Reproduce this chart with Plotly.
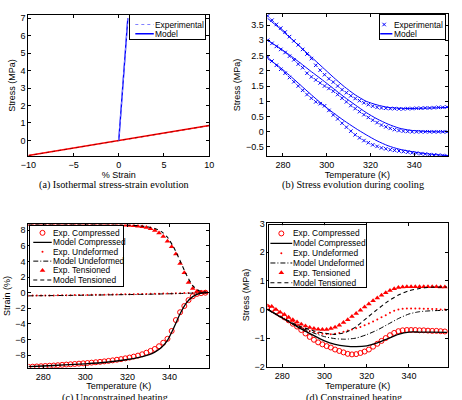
import plotly.graph_objects as go

# ---------------- DATA ----------------
# (a) isothermal stress-strain
STRAIN_LOW = [0, 1]
STRESS_LOW_EXP = [0, 7.0]
STRESS_LOW_MOD = [0, 7.0]
STRAIN_HIGH = [-10, 10]
STRESS_HIGH_EXP = [-0.87, 0.85]
STRESS_HIGH_MOD = [-0.87, 0.85]

# (b) stress evolution during cooling
T_B_EXP = [273, 275, 277, 279, 281, 283, 285, 287, 289, 291, 293, 295, 297, 299, 301, 303, 305, 307, 309, 311, 313,
           315, 317, 319, 321, 323, 325, 327, 329, 331, 333, 335, 337, 339, 341, 343, 345, 347, 349, 351, 353, 355]
B_TOP_EXP = [3.80, 3.66, 3.52, 3.40, 3.27, 3.12, 2.98, 2.85, 2.70, 2.55, 2.40, 2.18, 2.02, 1.87, 1.74, 1.63, 1.50, 1.38,
             1.28, 1.18, 1.09, 1.02, 0.95, 0.89, 0.84, 0.80, 0.78, 0.77, 0.76, 0.76, 0.75, 0.75, 0.76, 0.76, 0.77, 0.77,
             0.78, 0.78, 0.79, 0.80, 0.80, 0.81]
B_MID_EXP = [3.00, 2.90, 2.80, 2.70, 2.60, 2.48, 2.36, 2.22, 2.10, 1.92, 1.80, 1.70, 1.60, 1.50, 1.42, 1.33, 1.22, 1.10,
             0.98, 0.86, 0.76, 0.66, 0.56, 0.47, 0.38, 0.30, 0.22, 0.16, 0.11, 0.07, 0.04, 0.02, 0.01, 0.00, 0.00, 0.00,
             0.00, 0.00, 0.00, 0.00, 0.00, 0.00]
B_BOT_EXP = [2.45, 2.32, 2.18, 2.05, 1.92, 1.78, 1.64, 1.50, 1.36, 1.22, 1.10, 0.98, 0.92, 0.85, 0.70, 0.55, 0.42, 0.28,
             0.15, 0.02, -0.10, -0.20, -0.29, -0.36, -0.43, -0.48, -0.53, -0.56, -0.59, -0.61, -0.63, -0.65, -0.67,
             -0.69, -0.70, -0.72, -0.73, -0.75, -0.76, -0.77, -0.78, -0.79]
T_B_MOD = [273, 278, 283, 288, 293, 298, 303, 308, 313, 318, 323, 328, 333, 338, 343, 348, 356]
B_TOP_MOD = [3.72, 3.42, 3.10, 2.78, 2.45, 2.12, 1.79, 1.48, 1.21, 1.00, 0.88, 0.80, 0.77, 0.76, 0.77, 0.78, 0.80]
B_MID_MOD = [3.00, 2.77, 2.52, 2.25, 1.97, 1.70, 1.42, 1.14, 0.88, 0.63, 0.42, 0.25, 0.12, 0.05, 0.02, 0.00, 0.00]
B_BOT_MOD = [2.40, 2.15, 1.85, 1.53, 1.21, 0.90, 0.62, 0.36, 0.12, -0.10, -0.30, -0.46, -0.57, -0.64, -0.70, -0.74, -0.79]

# (c) unconstrained heating (strain %)  and (d) constrained heating (stress MPa)
T_EXP = [273, 275, 277, 279, 281, 283, 285, 287, 289, 291, 293, 295, 297, 299, 301, 303, 305, 307, 309, 311, 313, 315,
         317, 319, 321, 323, 325, 327, 329, 331, 333, 335, 337, 339, 341, 343, 345, 347, 349, 351, 353, 355, 357]
C_COMP_EXP = [-9.50, -9.47, -9.44, -9.41, -9.38, -9.35, -9.32, -9.28, -9.24, -9.20, -9.16, -9.12, -9.08, -9.04, -9.00,
              -8.95, -8.90, -8.85, -8.79, -8.73, -8.66, -8.58, -8.50, -8.40, -8.30, -8.18, -8.05, -7.88, -7.68, -7.45,
              -7.20, -6.85, -6.40, -5.90, -4.90, -3.50, -2.50, -1.70, -0.95, -0.45, -0.15, -0.05, 0.00]
C_UND_EXP = [-0.38, -0.37, -0.37, -0.36, -0.35, -0.35, -0.34, -0.33, -0.33, -0.32, -0.31, -0.30, -0.30, -0.29, -0.28,
             -0.27, -0.27, -0.26, -0.25, -0.24, -0.23, -0.22, -0.21, -0.20, -0.19, -0.18, -0.17, -0.16, -0.15, -0.14,
             -0.13, -0.12, -0.11, -0.10, -0.09, -0.08, -0.06, -0.05, -0.04, -0.03, -0.02, -0.01, 0.00]
C_TEN_EXP = [8.70, 8.70, 8.70, 8.70, 8.70, 8.70, 8.70, 8.70, 8.70, 8.70, 8.70, 8.70, 8.70, 8.70, 8.70, 8.70, 8.70, 8.70,
             8.70, 8.69, 8.68, 8.67, 8.66, 8.64, 8.62, 8.58, 8.52, 8.45, 8.35, 8.20, 7.98, 7.65, 7.20, 6.60, 5.90, 4.95,
             3.75, 2.55, 1.30, 0.55, 0.20, 0.06, 0.02]
T_C_MOD = [273, 280, 290, 300, 310, 320, 325, 330, 333, 336, 339, 342, 345, 348, 351, 354, 358]
C_COMP_MOD = [-9.45, -9.38, -9.25, -9.10, -8.90, -8.55, -8.30, -7.95, -7.60, -7.05, -6.10, -4.50, -2.70, -1.30, -0.50,
              -0.12, 0.00]
C_UND_MOD = [-0.40, -0.38, -0.35, -0.32, -0.28, -0.24, -0.22, -0.20, -0.18, -0.16, -0.14, -0.12, -0.10, -0.08, -0.05,
             -0.02, 0.00]
C_TEN_MOD = [8.72, 8.72, 8.72, 8.72, 8.71, 8.66, 8.58, 8.42, 8.22, 7.85, 7.10, 5.80, 4.10, 2.30, 0.90, 0.25, 0.02]

D_COMP_EXP = [0.08, 0.02, -0.08, -0.18, -0.28, -0.38, -0.50, -0.60, -0.72, -0.84, -0.96, -1.06, -1.15, -1.22, -1.28,
              -1.33, -1.40, -1.45, -1.50, -1.55, -1.57, -1.56, -1.52, -1.47, -1.40, -1.30, -1.20, -1.10, -1.00, -0.90,
              -0.82, -0.76, -0.73, -0.72, -0.72, -0.72, -0.73, -0.73, -0.74, -0.75, -0.75, -0.76, -0.77]
D_UND_EXP = [0.00, -0.08, -0.17, -0.25, -0.33, -0.42, -0.50, -0.57, -0.64, -0.70, -0.75, -0.79, -0.82, -0.85, -0.86,
             -0.87, -0.85, -0.82, -0.78, -0.74, -0.70, -0.66, -0.61, -0.55, -0.49, -0.42, -0.35, -0.27, -0.20, -0.12,
             -0.05, 0.00, 0.02, 0.03, 0.03, 0.03, 0.03, 0.02, 0.02, 0.01, 0.01, 0.00, 0.00]
D_TEN_EXP = [0.12, 0.10, 0.00, -0.10, -0.18, -0.27, -0.36, -0.44, -0.52, -0.58, -0.63, -0.67, -0.69, -0.70, -0.70,
             -0.67, -0.62, -0.55, -0.46, -0.36, -0.25, -0.14, -0.03, 0.08, 0.19, 0.30, 0.40, 0.49, 0.58, 0.66, 0.72,
             0.76, 0.78, 0.79, 0.79, 0.79, 0.79, 0.79, 0.79, 0.79, 0.79, 0.78, 0.78]
T_D_MOD = [273, 280, 287, 294, 300, 305, 310, 315, 320, 325, 330, 335, 340, 345, 350, 358]
D_COMP_MOD = [0.00, -0.30, -0.60, -0.88, -1.10, -1.22, -1.28, -1.30, -1.27, -1.17, -1.02, -0.87, -0.79, -0.79, -0.79,
              -0.80]
D_UND_MOD = [0.00, -0.30, -0.58, -0.80, -0.95, -1.02, -1.04, -1.00, -0.88, -0.72, -0.52, -0.32, -0.16, -0.08, -0.05,
             -0.03]
D_TEN_MOD = [0.00, -0.28, -0.55, -0.73, -0.83, -0.87, -0.80, -0.60, -0.30, 0.00, 0.28, 0.50, 0.65, 0.73, 0.77, 0.78]

CAPTIONS = ["(a) Isothermal stress-strain evolution", "(b) Stress evolution during cooling",
            "(c) Unconstrained heating", "(d) Constrained heating"]

# ---------------- STYLE / LAYOUT ----------------
W, H = 462, 400
SANS = "Liberation Sans"
SERIF = "Liberation Serif"


def fx(p):
    return p / W


def fy(p):
    return 1 - p / H


BLUE = "#0000ff"
RED = "#ff0000"
BLACK = "#000000"
DASH = "4px,3px"
DASHDOT = "5px,2px,1px,2px"

fig = go.Figure()


def add(x, y, ax, **kw):
    n = "" if ax == 1 else str(ax)
    fig.add_trace(go.Scatter(x=x, y=y, xaxis="x" + n, yaxis="y" + n, showlegend=False, hoverinfo="skip", **kw))


# (a)
add(STRAIN_HIGH, STRESS_HIGH_MOD, 1, mode="lines", line=dict(color=RED, width=1.5))
add(STRAIN_HIGH, STRESS_HIGH_EXP, 1, mode="lines", line=dict(color="#a00000", width=1, dash="dot"))
add(STRAIN_LOW, STRESS_LOW_MOD, 1, mode="lines", line=dict(color=BLUE, width=1.4))
add(STRAIN_LOW, STRESS_LOW_EXP, 1, mode="lines", line=dict(color="#8080ff", width=1, dash="dot"))

# (b)
xmark = dict(symbol="x-thin-open", size=3.5, color=BLUE, line=dict(color=BLUE, width=1))
for ye, ym in [(B_TOP_EXP, B_TOP_MOD), (B_MID_EXP, B_MID_MOD), (B_BOT_EXP, B_BOT_MOD)]:
    add(T_B_EXP, ye, 2, mode="markers", marker=xmark)
    add(T_B_MOD, ym, 2, mode="lines", line=dict(color=BLUE, width=1, shape="spline", smoothing=0.6))

# (c) and (d)
circ = dict(symbol="circle-open", size=5, color=RED, line=dict(color=RED, width=1))
tri = dict(symbol="triangle-up", size=5, color=RED, line=dict(width=0))
dot = dict(symbol="circle", size=2, color=RED, line=dict(width=0))
for ax, (ce, ue, te, cm, um, tm, tmod) in {
    3: (C_COMP_EXP, C_UND_EXP, C_TEN_EXP, C_COMP_MOD, C_UND_MOD, C_TEN_MOD, T_C_MOD),
    4: (D_COMP_EXP, D_UND_EXP, D_TEN_EXP, D_COMP_MOD, D_UND_MOD, D_TEN_MOD, T_D_MOD),
}.items():
    add(T_EXP, ue, ax, mode="markers", marker=dot)
    add(T_EXP, ce, ax, mode="markers", marker=circ)
    add(T_EXP, te, ax, mode="markers", marker=tri)
    add(tmod, cm, ax, mode="lines", line=dict(color=BLACK, width=1.3, shape="spline", smoothing=0.6))
    add(tmod, um, ax, mode="lines", line=dict(color=BLACK, width=1, dash=DASHDOT, shape="spline", smoothing=0.6))
    add(tmod, tm, ax, mode="lines", line=dict(color=BLACK, width=1.1, dash=DASH, shape="spline", smoothing=0.6))


def main_axis(dom, rng, tickvals=None, dtick=None, title="", standoff=0):
    d = dict(domain=dom, range=rng, showline=True, mirror="ticks", linecolor=BLACK, linewidth=1,
             ticks="inside", ticklen=3, tickwidth=0.8, tickcolor=BLACK, showgrid=False, zeroline=False,
             tickfont=dict(family=SANS, size=9, color=BLACK),
             title=dict(text=title, font=dict(family=SANS, size=9, color=BLACK), standoff=standoff))
    if tickvals is not None:
        d["tickvals"] = tickvals
    if dtick is not None:
        d["dtick"] = dtick
        d["tick0"] = 0
    return d


T_TICKS = [280, 300, 320, 340]
layout = dict(
    width=W, height=H, margin=dict(l=0, r=0, t=0, b=0),
    paper_bgcolor="white", plot_bgcolor="white", showlegend=False,
    xaxis=dict(main_axis([fx(21), fx(207)], [-10, 10], tickvals=[-10, -5, 0, 5, 10], title="% Strain"), anchor="y"),
    yaxis=dict(main_axis([fy(155), fy(10)], [-0.9, 7.2], dtick=1, title="Stress (MPa)", standoff=3), anchor="x"),
    xaxis2=dict(main_axis([fx(266), fx(453)], [272.5, 355.5], tickvals=T_TICKS, title="Temperature (K)"), anchor="y2"),
    yaxis2=dict(main_axis([fy(155), fy(9)], [-0.8, 3.87], dtick=0.5, title="Stress (MPa)", standoff=3), anchor="x2"),
    xaxis3=dict(main_axis([fx(21), fx(207)], [273, 358.8], tickvals=T_TICKS, title="Temperature (K)"), anchor="y3"),
    yaxis3=dict(main_axis([fy(372), fy(225)], [-9.6, 8.75], dtick=2, title="Strain (%)", standoff=3), anchor="x3"),
    xaxis4=dict(main_axis([fx(267), fx(453)], [273, 358.6], tickvals=T_TICKS, title="Temperature (K)"), anchor="y4"),
    yaxis4=dict(main_axis([fy(371), fy(224)], [-2, 3], dtick=1, title="Stress (MPa)", standoff=3), anchor="x4"),
)

# ---------------- LEGEND BOXES (overlay subplots in pixel units) ----------------
annotations = []
line_solid_blue = dict(color=BLUE, width=1.4)
legends = [
    (5, (126, 203, 10, 34.5), 131, 150, 150.5,
     [("Experimental", dict(color="#8080ff", width=1, dash="dot"), None),
      ("Model", line_solid_blue, None)], [20, 29.5]),
    (6, (383, 450, 10, 35), 378.5, 395.5, 396,
     [("Experimental", None, xmark), ("Model", line_solid_blue, None)], [20, 29.5]),
    (7, (22.5, 118, 226.5, 288.5), 26, 45, 45.5,
     [("Exp. Compressed", None, circ), ("Model Compressed", dict(color=BLACK, width=1.3), None),
      ("Exp. Undeformed", None, dot), ("Model Undeformed", dict(color=BLACK, width=1, dash=DASHDOT), None),
      ("Exp. Tensioned", None, tri), ("Model Tensioned", dict(color=BLACK, width=1.1, dash=DASH), None)],
     [233.7, 243.4, 253, 262.7, 272.3, 282]),
    (8, (268.5, 368, 226, 289.5), 270, 292.5, 292.5,
     [("Exp. Compressed", None, circ), ("Model Compressed", dict(color=BLACK, width=1.3), None),
      ("Exp. Undeformed", None, dot), ("Model Undeformed", dict(color=BLACK, width=1, dash=DASHDOT), None),
      ("Exp. Tensioned", None, tri), ("Model Tensioned", dict(color=BLACK, width=1.1, dash=DASH), None)],
     [234.3, 244.4, 254.5, 264.6, 274.7, 284.8]),
]
for ax, (l, r, t, b), sx0, sx1, tx, rows, ys in legends:
    n = str(ax)
    layout["xaxis" + n] = dict(domain=[fx(l), fx(r)], range=[l, r], anchor="y" + n, showline=True, mirror=True,
                               linecolor=BLACK, linewidth=0.8, showticklabels=False, ticks="", showgrid=False,
                               zeroline=False, fixedrange=True)
    layout["yaxis" + n] = dict(domain=[fy(b), fy(t)], range=[b, t], anchor="x" + n, showline=True, mirror=True,
                               linecolor=BLACK, linewidth=0.8, showticklabels=False, ticks="", showgrid=False,
                               zeroline=False, fixedrange=True)
    add([l, r, r, l, l], [t, t, b, b, t], ax, mode="lines", fill="toself", fillcolor="white",
        line=dict(width=0, color="white"))
    for (label, ln, mk), yy in zip(rows, ys):
        if ln is not None:
            add([sx0, sx1], [yy, yy], ax, mode="lines", line=ln)
        if mk is not None:
            add([(sx0 + sx1) / 2], [yy], ax, mode="markers", marker=mk)
        annotations.append(dict(x=tx, y=yy, xref="x" + n, yref="y" + n, text=label, showarrow=False,
                                xanchor="left", yanchor="middle", borderpad=0,
                                font=dict(family=SANS, size=8.4, color=BLACK)))

# ---------------- CAPTIONS ----------------
for text, cx, cy in zip(CAPTIONS, [109, 355, 110, 356], [185, 185, 403.5, 403.5]):
    annotations.append(dict(x=fx(cx), y=fy(cy), xref="paper", yref="paper", text=text, showarrow=False,
                            xanchor="center", yanchor="middle", font=dict(family=SERIF, size=10.2, color=BLACK)))

layout["annotations"] = annotations
fig.update_layout(**layout)
fig.write_html("out.html")
